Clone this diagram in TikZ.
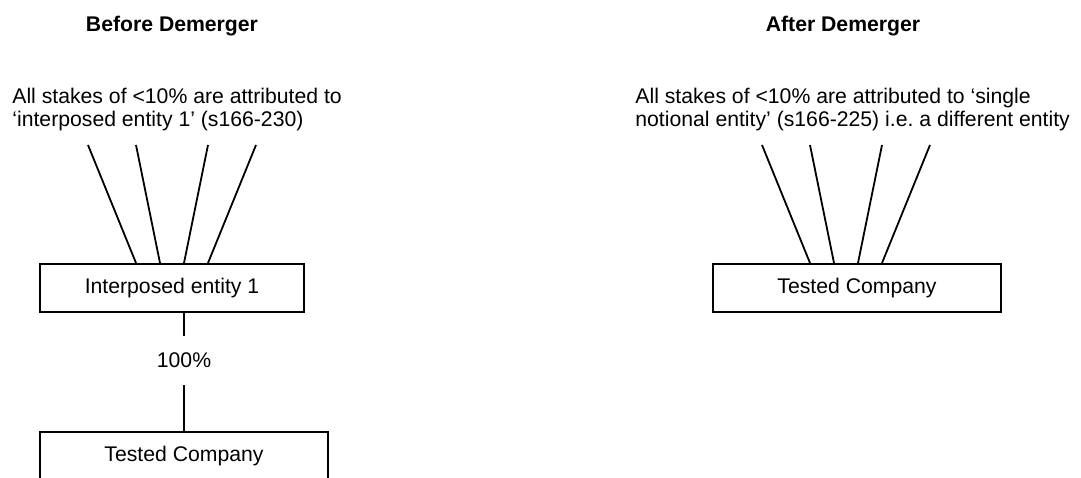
\documentclass[tikz,border=0pt]{standalone}
\usepackage{fontspec}
\setmainfont{Liberation Sans}
\usetikzlibrary{calc}
\frenchspacing
\begin{document}
\begin{tikzpicture}[x=0.5pt,y=-0.5pt,
  every node/.style={font=\fontsize{10.6}{11.6}\selectfont},
  title/.style={font=\fontsize{10.6}{11.6}\selectfont\bfseries, anchor=base},
  note/.style={align=left, anchor=north west, inner sep=0pt},
  entity/.style={draw, line width=1pt, inner sep=0pt, minimum height=24pt},
  stake/.style={line width=0.9pt},
  link/.style={line width=1pt}]
\useasboundingbox (0,0) rectangle (1081,477);
\clip (0,0) rectangle (1081,477);
% titles
\node[title] (tb) at (172,31) {Before Demerger};
\node[title] (tf) at (843,31) {After Demerger};
% notes
\node[note] (nb) at (12,88) {All stakes of <10\% are attributed to\\‘interposed entity 1’ (s166-230)};
\node[note] (na) at (635,88) {All stakes of <10\% are attributed to ‘single\\notional entity’ (s166-225) i.e.\ a different entity};
% entities
\node[entity, minimum width=132pt] (ie) at (172,288) {Interposed entity 1};
\node[inner sep=0pt, minimum height=24.5pt] (pct) at (184,360.5) {100\%};
\node[entity, minimum width=144pt] (tc) at (184,456) {Tested Company};
\node[entity, minimum width=144pt] (tr) at (857,288) {Tested Company};
% fan tops (free ends)
\coordinate (l1) at (88,145);
\coordinate (l2) at (136,145);
\coordinate (l3) at (208,145);
\coordinate (l4) at (256,145);
\coordinate (r1) at (762,145);
\coordinate (r2) at (810,145);
\coordinate (r3) at (882,145);
\coordinate (r4) at (930,145);
% left fan
\draw[stake] (l1) -- ([xshift=-18pt]ie.north);
\draw[stake] (l2) -- ([xshift=-6pt]ie.north);
\draw[stake] (l3) -- ([xshift=6pt]ie.north);
\draw[stake] (l4) -- ([xshift=18pt]ie.north);
% right fan
\draw[stake] (r1) -- ([xshift=-23.5pt]tr.north);
\draw[stake] (r2) -- ([xshift=-11.5pt]tr.north);
\draw[stake] (r3) -- ([xshift=0.5pt]tr.north);
\draw[stake] (r4) -- ([xshift=12.5pt]tr.north);
% 100% link
\draw[link] (ie.south -| pct.north) -- (pct.north);
\draw[link] (pct.south) -- (tc.north);
\end{tikzpicture}
\end{document}
